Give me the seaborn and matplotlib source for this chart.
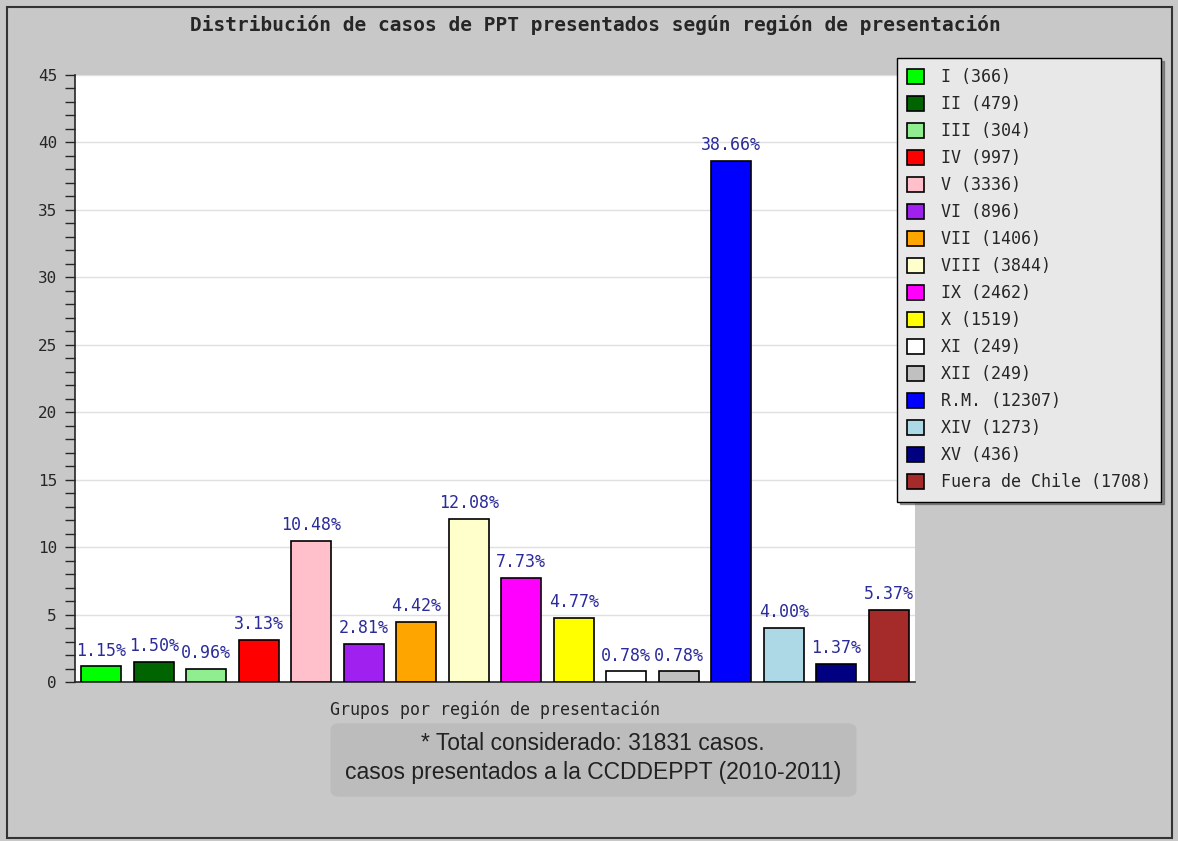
import pandas as pd
import seaborn as sns
import numpy as np
import matplotlib.pyplot as plt
from matplotlib.patches import Rectangle, FancyBboxPatch

# datos del grafico
regiones = ["I", "II", "III", "IV", "V", "VI", "VII", "VIII", "IX", "X",
            "XI", "XII", "R.M.", "XIV", "XV", "Fuera de Chile"]
casos = [366, 479, 304, 997, 3336, 896, 1406, 3844, 2462, 1519,
         249, 249, 12307, 1273, 436, 1708]
porcentajes = [1.15, 1.50, 0.96, 3.13, 10.48, 2.81, 4.42, 12.08, 7.73, 4.77,
               0.78, 0.78, 38.66, 4.00, 1.37, 5.37]
colores = ["#00ff00", "#006400", "#90ee90", "#ff0000", "#ffc0cb", "#a020f0",
           "#ffa500", "#ffffcc", "#ff00ff", "#ffff00", "#ffffff", "#c0c0c0",
           "#0000ff", "#add8e6", "#000080", "#a52a2a"]

df = pd.DataFrame({"region": regiones, "casos": casos, "pct": porcentajes})
df["etiqueta"] = [f"{r} ({c})" for r, c in zip(regiones, casos)]

sns.set_style("white")
plt.rcParams['font.family'] = ['DejaVu Sans Mono', 'DejaVu Sans']

fig = plt.figure(figsize=(11.78, 8.41), dpi=100, facecolor="#c8c8c8")
ax = fig.add_axes([75 / 1178, 1 - 682 / 841, 840 / 1178, 607 / 841])
ax.set_facecolor("white")

sns.barplot(data=df, x="region", y="pct", hue="etiqueta", palette=colores,
            saturation=1, dodge=False, width=0.76, edgecolor="black",
            linewidth=1.2, legend=True, ax=ax, zorder=3)

for cont in ax.containers:
    ax.bar_label(cont, labels=[f"{v:.2f}%" for v in cont.datavalues],
                 color="#2b2b9a", fontsize=12, padding=5)

ax.set_ylim(0, 45)
ax.set_xlim(-0.5, len(regiones) - 0.5)
ax.set_yticks(np.arange(0, 46, 5))
ax.set_yticks(np.arange(0, 46, 1), minor=True)
ax.tick_params(axis="y", which="both", direction="out", length=7, width=1,
               left=True, labelsize=11.5, pad=6)
ax.tick_params(axis="x", bottom=False, labelbottom=False)
ax.grid(axis="y", which="major", color="#e0e0e0", linewidth=1, zorder=0)
for s in ["top", "right"]:
    ax.spines[s].set_visible(False)
ax.spines["left"].set_linewidth(1.2)
ax.spines["bottom"].set_linewidth(1.2)
ax.set_xlabel("Grupos por región de presentación", fontsize=12, labelpad=13)
ax.set_ylabel("")

handles, labels = ax.get_legend_handles_labels()
ax.legend_.remove()
leg = fig.legend(handles, labels, loc="upper left",
                 bbox_to_anchor=(897 / 1178, 1 - 58 / 841),
                 fontsize=12, frameon=True, shadow=True, fancybox=False,
                 handlelength=1.0, handleheight=1.0, labelspacing=0.54,
                 borderpad=0.62, handletextpad=1.0, borderaxespad=0)
leg.get_frame().set_facecolor("#e8e8e8")
leg.get_frame().set_edgecolor("black")
leg.get_frame().set_alpha(1)

fig.text(595 / 1178, 1 - 25 / 841,
         "Distribución de casos de PPT presentados según región de presentación",
         ha="center", va="center", fontsize=14, fontweight="bold")

caja = FancyBboxPatch((340 / 1178, 1 - 790 / 841), 507 / 1178, 60 / 841,
                      boxstyle="round,pad=0.008", transform=fig.transFigure,
                      facecolor="#bcbcbc", edgecolor="none")
fig.patches.append(caja)
fig.text(593 / 1178, 1 - 743 / 841, "* Total considerado: 31831 casos.",
         ha="center", va="center", fontsize=16.5, family="Liberation Sans",
         color="#222222")
fig.text(593 / 1178, 1 - 772 / 841, "casos presentados a la CCDDEPPT (2010-2011)",
         ha="center", va="center", fontsize=16.5, family="Liberation Sans",
         color="#222222")

borde = Rectangle((7 / 1178, 1 - 838 / 841), 1165 / 1178, 831 / 841,
                  transform=fig.transFigure, fill=False, edgecolor="#333333",
                  linewidth=1.5)
fig.patches.append(borde)

fig.savefig("out.png", dpi=100, facecolor=fig.get_facecolor())
